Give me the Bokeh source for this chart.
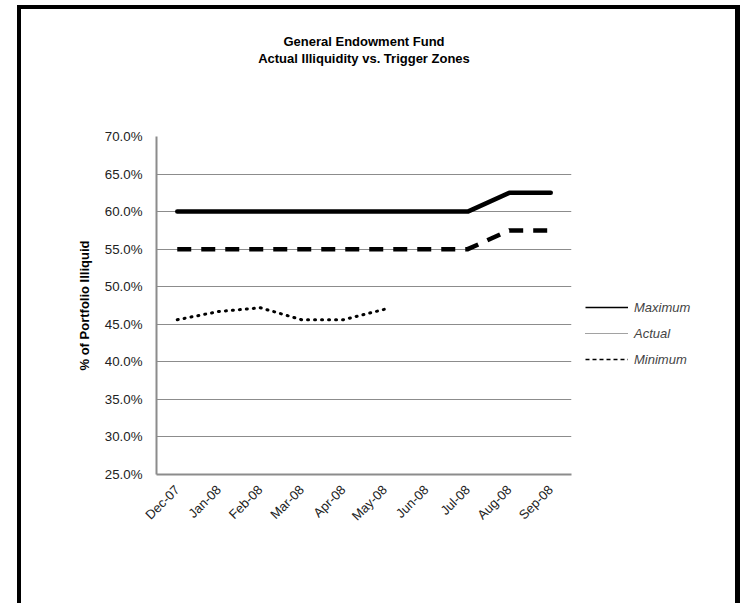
import math
from bokeh.plotting import figure
from bokeh.models import (FactorRange, Range1d, FixedTicker, NumeralTickFormatter,
                          Legend, LegendItem, InlineStyleSheet, Title)
from bokeh.embed import file_html
from bokeh.resources import INLINE

# ---- data ----
months = ["Dec-07", "Jan-08", "Feb-08", "Mar-08", "Apr-08",
          "May-08", "Jun-08", "Jul-08", "Aug-08", "Sep-08"]
maximum = [0.600, 0.600, 0.600, 0.600, 0.600, 0.600, 0.600, 0.600, 0.625, 0.625]
minimum = [0.550, 0.550, 0.550, 0.550, 0.550, 0.550, 0.550, 0.550, 0.575, 0.575]
actual_months = ["Dec-07", "Jan-08", "Feb-08", "Mar-08", "Apr-08", "May-08"]
actual = [0.456, 0.467, 0.472, 0.456, 0.456, 0.470]
y_ticks = [0.25, 0.30, 0.35, 0.40, 0.45, 0.50, 0.55, 0.60, 0.65, 0.70]
title_lines = ["General Endowment Fund", "Actual Illiquidity vs. Trigger Zones"]
y_label = "% of Portfolio Illiquid"
series_names = ["Maximum", "Actual", "Minimum"]

FONT = "Liberation Sans"

border_css = InlineStyleSheet(css="""
:host::after {
  content: "";
  position: fixed;
  left: 17px; top: 5px;
  width: 723px; height: 598px;
  box-sizing: border-box;
  border-left: 4px solid black;
  border-top: 4px solid black;
  border-right: 5px solid black;
  pointer-events: none;
  z-index: 100;
}
""")

p = figure(frame_width=415, frame_height=338, title=None,
           x_range=FactorRange(*months, range_padding=0),
           y_range=Range1d(0.25, 0.70),
           output_backend="svg", toolbar_location=None,
           min_border_left=156, min_border_right=171,
           min_border_top=136, min_border_bottom=121,
           stylesheets=[border_css])
p.outline_line_color = None
p.background_fill_color = "white"
p.border_fill_color = "white"

# title: spacer (closest to frame), then second line, then first line
p.add_layout(Title(text=" ", text_font_size="13px", standoff=54), "above")
for t in reversed(title_lines):
    p.add_layout(Title(text=t, align="center", standoff=0, text_font=FONT,
                       text_font_size="13px", text_font_style="bold",
                       text_color="black"), "above")

# grid
p.xgrid.grid_line_color = None
p.ygrid.ticker = FixedTicker(ticks=y_ticks)
p.ygrid.grid_line_color = "#8c8c8c"
p.ygrid.grid_line_width = 1

# axes
p.yaxis.ticker = FixedTicker(ticks=y_ticks)
p.yaxis.formatter = NumeralTickFormatter(format="0.0%")
for ax in (p.xaxis[0], p.yaxis[0]):
    ax.axis_line_color = "#8c8c8c"
    ax.axis_line_width = 2
    ax.major_tick_line_color = None
    ax.minor_tick_line_color = None
    ax.major_tick_out = 0
    ax.major_tick_in = 0
    ax.major_label_text_font = FONT
    ax.major_label_text_color = "#222222"
p.yaxis.major_label_text_font_size = "13.3px"
p.yaxis.major_label_standoff = 14
p.xaxis.major_label_text_font_size = "13px"
p.xaxis.major_label_orientation = math.pi / 4
p.xaxis.major_label_standoff = 13
p.yaxis.axis_label = y_label
p.yaxis.axis_label_text_font = FONT
p.yaxis.axis_label_text_font_size = "13px"
p.yaxis.axis_label_text_font_style = "bold"
p.yaxis.axis_label_text_color = "black"
p.yaxis.axis_label_standoff = 10

# series
p.line(months, maximum, line_color="black", line_width=4.5,
       line_join="round", line_cap="round")
p.line(months, minimum, line_color="black", line_width=4.5,
       line_dash="14 10", line_join="round")
p.line(actual_months, actual, line_color="black", line_width=3,
       line_dash="1 6", line_cap="round", line_join="round")

# legend proxies (thin styles like the reference legend; not drawn in the plot)
nan = float("nan")
lg_max = p.line(months[:2], [nan, nan], line_color="black", line_width=1.5)
lg_act = p.line(months[:2], [nan, nan], line_color="#444444", line_width=1, line_dash="1 1")
lg_min = p.line(months[:2], [nan, nan], line_color="black", line_width=1.5, line_dash="4 3")
legend = Legend(items=[LegendItem(label=series_names[0], renderers=[lg_max]),
                       LegendItem(label=series_names[1], renderers=[lg_act]),
                       LegendItem(label=series_names[2], renderers=[lg_min])],
                location="center_left", orientation="vertical",
                title=" ", title_text_font_size="13px", title_standoff=41,
                glyph_width=43, glyph_height=20, label_height=20, spacing=6,
                padding=0, margin=14, label_standoff=6,
                label_text_font=FONT, label_text_font_style="italic",
                label_text_font_size="13px", label_text_color="#444444",
                background_fill_alpha=0, border_line_color=None)
p.add_layout(legend, "right")

open("out.html", "w").write(file_html(p, INLINE))
